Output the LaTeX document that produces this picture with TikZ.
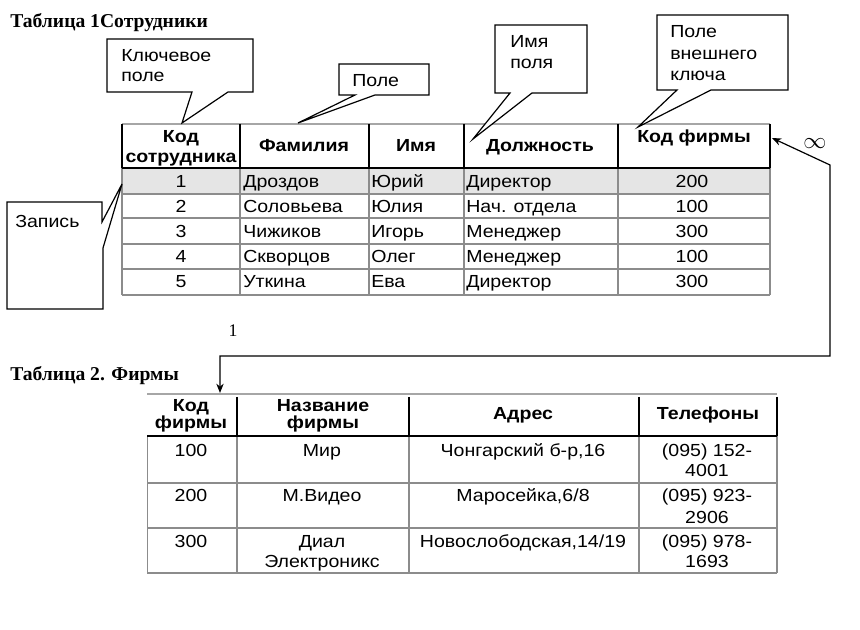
\documentclass[tikz,border=0pt]{standalone}
\usepackage{fontspec}
\setmainfont{Liberation Sans}[FakeStretch=1.12]
\newfontfamily\serifttl{Liberation Serif}
\usetikzlibrary{arrows.meta}
\tikzset{
  txt/.style={inner sep=0pt, font=\fontsize{13.1}{15}\selectfont},
  hdr/.style={inner sep=0pt, font=\fontsize{13.1}{15}\selectfont\bfseries},
  ttl/.style={inner sep=0pt, font=\serifttl\fontsize{14.7}{17}\selectfont\bfseries},
  callout/.style={draw=black, line width=0.9pt, fill=white, line join=miter},
  hline/.style={draw=black, line width=1.7pt},
  gline/.style={draw=black!45, line width=1.5pt},
  thin/.style={draw=black!35, line width=0.8pt},
  conn/.style={draw=black, line width=0.9pt, {Stealth[length=7pt,width=5.5pt]}-{Stealth[length=7pt,width=5.5pt]}},
}
\begin{document}
\begin{tikzpicture}[x=0.75pt,y=-0.75pt]
\useasboundingbox (0,0) rectangle (860,630);

% titles
\node[ttl, anchor=base west] (t1) at (10,28) {Таблица 1Сотрудники};
\node[ttl, anchor=base west] (t2) at (10,381) {Таблица 2. Фирмы};

% ---------- Table 1 ----------
\fill[black!10] (122,168) rectangle (770,194);
\draw[thin] (122,124) -- (770,124);
\foreach \yy in {194,218,244,269} \draw[gline, line width=1.1pt] (122,\yy) -- (770,\yy);
\draw[gline, line width=2pt] (122,295) -- (770,295);
\foreach \xx in {240,369,464,618} \draw[gline] (\xx,168) -- (\xx,295);
\draw[gline, line width=0.8pt] (122,168) -- (122,295);
\draw[gline, line width=2pt] (770,168) -- (770,295);
\foreach \xx in {240,369,464,618} \draw[hline] (\xx,124) -- (\xx,168);
\draw[draw=black, line width=0.8pt] (122,124) -- (122,168);
\draw[hline, line width=1.3pt] (770,124) -- (770,168);
\draw[hline, line width=1.4pt] (122,168) -- (770,168);

\node[hdr, anchor=base] (h11a) at (181,143) {Код};
\node[hdr, anchor=base] (h11b) at (181,163) {сотрудника};
\node[hdr, anchor=base] (h12) at (304,152) {Фамилия};
\node[hdr, anchor=base] (h13) at (416,152) {Имя};
\node[hdr, anchor=base] (h14) at (540,152) {Должность};
\node[hdr, anchor=base] (h15) at (694,143) {Код фирмы};

\node[txt, anchor=base] (r1a) at (181,188) {1};
\node[txt, anchor=base west] (r1b) at (243,188) {Дроздов};
\node[txt, anchor=base west] (r1c) at (371,188) {Юрий};
\node[txt, anchor=base west] (r1d) at (466,188) {Директор};
\node[txt, anchor=base] (r1e) at (692,188) {200};

\node[txt, anchor=base] (r2a) at (181,213) {2};
\node[txt, anchor=base west] (r2b) at (243,213) {Соловьева};
\node[txt, anchor=base west] (r2c) at (371,213) {Юлия};
\node[txt, anchor=base west] (r2d) at (466,213) {Нач. отдела};
\node[txt, anchor=base] (r2e) at (692,213) {100};

\node[txt, anchor=base] (r3a) at (181,238) {3};
\node[txt, anchor=base west] (r3b) at (243,238) {Чижиков};
\node[txt, anchor=base west] (r3c) at (371,238) {Игорь};
\node[txt, anchor=base west] (r3d) at (466,238) {Менеджер};
\node[txt, anchor=base] (r3e) at (692,238) {300};

\node[txt, anchor=base] (r4a) at (181,263) {4};
\node[txt, anchor=base west] (r4b) at (243,263) {Скворцов};
\node[txt, anchor=base west] (r4c) at (371,263) {Олег};
\node[txt, anchor=base west] (r4d) at (466,263) {Менеджер};
\node[txt, anchor=base] (r4e) at (692,263) {100};

\node[txt, anchor=base] (r5a) at (181,288) {5};
\node[txt, anchor=base west] (r5b) at (243,288) {Уткина};
\node[txt, anchor=base west] (r5c) at (371,288) {Ева};
\node[txt, anchor=base west] (r5d) at (466,288) {Директор};
\node[txt, anchor=base] (r5e) at (692,288) {300};

% ---------- Table 2 ----------
\draw[thin] (147,394) -- (777,394);
\foreach \yy in {483,528} \draw[gline, line width=1.1pt] (147,\yy) -- (777,\yy);
\draw[gline, line width=2pt] (147,573) -- (777,573);
\foreach \xx in {237,409,639} \draw[gline, line width=2pt] (\xx,436) -- (\xx,573);
\draw[gline, line width=0.6pt] (147,436) -- (147,573);
\draw[gline, line width=2pt] (777,436) -- (777,573);
\foreach \xx in {237,409,639} \draw[hline, line width=2pt] (\xx,397) -- (\xx,436);
\draw[hline, line width=1.4pt] (777,397) -- (777,436);
\draw[hline, line width=1.2pt] (147,436) -- (777,436);

\node[hdr, anchor=base] (g11a) at (191,412) {Код};
\node[hdr, anchor=base] (g11b) at (191,429) {фирмы};
\node[hdr, anchor=base] (g12a) at (323,412) {Название};
\node[hdr, anchor=base] (g12b) at (323,429) {фирмы};
\node[hdr, anchor=base] (g13) at (523,420) {Адрес};
\node[hdr, anchor=base] (g14) at (708,420) {Телефоны};

\node[txt, anchor=base] (s1a) at (191,457) {100};
\node[txt, anchor=base] (s1b) at (322,457) {Мир};
\node[txt, anchor=base] (s1c) at (523,457) {Чонгарский б-р,16};
\node[txt, anchor=base] (s1d) at (707,457) {(095) 152-};
\node[txt, anchor=base] (s1e) at (707,477) {4001};

\node[txt, anchor=base] (s2a) at (191,502) {200};
\node[txt, anchor=base] (s2b) at (322,502) {М.Видео};
\node[txt, anchor=base] (s2c) at (523,502) {Маросейка,6/8};
\node[txt, anchor=base] (s2d) at (707,502) {(095) 923-};
\node[txt, anchor=base] (s2e) at (707,523) {2906};

\node[txt, anchor=base] (s3a) at (191,547) {300};
\node[txt, anchor=base] (s3b) at (322,547) {Диал};
\node[txt, anchor=base] (s3b2) at (322,567) {Электроникс};
\node[txt, anchor=base] (s3c) at (523,547) {Новослободская,14/19};
\node[txt, anchor=base] (s3d) at (707,547) {(095) 978-};
\node[txt, anchor=base] (s3e) at (707,567) {1693};

% ---------- callouts ----------
\draw[callout] (107,39) -- (253,39) -- (253,92) -- (228,92) -- (182,123) -- (192,92) -- (107,92) -- cycle;
\node[txt, anchor=base west] (c1a) at (121,62) {Ключевое};
\node[txt, anchor=base west] (c1b) at (121,82) {поле};

\draw[callout] (339,64) -- (429,64) -- (429,95) -- (375,95) -- (298,123) -- (355,95) -- (339,95) -- cycle;
\node[txt, anchor=base west] (c2) at (352,87) {Поле};

\draw[callout] (495,25) -- (587,25) -- (587,93) -- (532,93) -- (473,139) -- (510,93) -- (495,93) -- cycle;
\node[txt, anchor=base west] (c3a) at (510,48) {Имя};
\node[txt, anchor=base west] (c3b) at (510,69) {поля};

\draw[callout] (657,15) -- (788,15) -- (788,90) -- (711,90) -- (638,127) -- (677,90) -- (657,90) -- cycle;
\node[txt, anchor=base west] (c4a) at (670,38) {Поле};
\node[txt, anchor=base west] (c4b) at (670,60) {внешнего};
\node[txt, anchor=base west] (c4c) at (670,81) {ключа};

\draw[callout] (7,202) -- (102,202) -- (102,222) -- (122,184) -- (103,248) -- (103,309) -- (7,309) -- cycle;
\node[txt, anchor=base west] (c5) at (15,228) {Запись};

% ---------- relation ----------
\coordinate (k1) at (772,138);
\coordinate (b1) at (830,165);
\coordinate (b2) at (830,356);
\coordinate (b3) at (220,356);
\coordinate (k2) at (220,393);
\draw[conn] (k1) -- (b1) -- (b2) -- (b3) -- (k2);
\node[inner sep=0pt, font=\fontsize{18}{18}\selectfont] (inf) at (815,144) {$\infty$};
\node[inner sep=0pt, anchor=base, font=\serifttl\fontsize{13.3}{15}\selectfont] (one) at (233,337) {1};

\end{tikzpicture}
\end{document}
